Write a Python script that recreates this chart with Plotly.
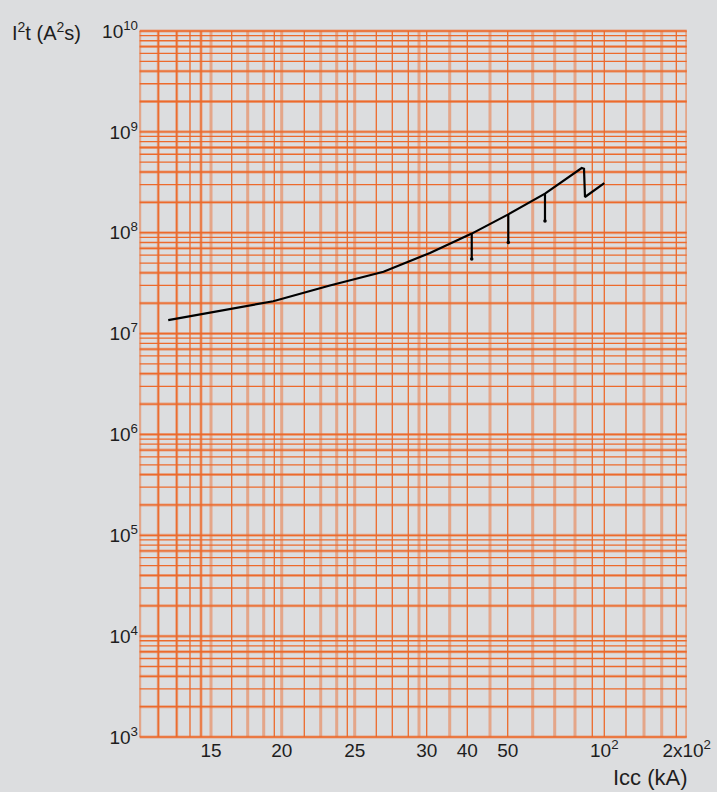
import numpy as np
import plotly.graph_objects as go

# ---- data -------------------------------------------------------------
# Let-through energy I²t versus prospective short-circuit current Icc
icc_ka = [12.0, 15.6, 19.4, 23.3, 27.0, 30.8, 41.1, 50.3, 69.3, 88.3, 89.5, 90.0, 100.0]
i2t_a2s = [1.36e7, 1.67e7, 2.09e7, 3.0e7, 4.1e7, 6.3e7, 9.8e7, 1.52e8, 2.44e8,
           4.38e8, 4.3e8, 2.26e8, 3.11e8]

# vertical drops hanging below the curve
drop_icc_ka = [41.1, 50.3, 69.3]
drop_top = [9.8e7, 1.52e8, 2.44e8]
drop_bottom = [5.5e7, 8.0e7, 1.31e8]

# axis ticks
x_tick_ka = [15, 20, 25, 30, 40, 50, 100, 200]
x_tick_text = ["15", "20", "25", "30", "40", "50", "10<sup>2</sup>", "2x10<sup>2</sup>"]
y_decades = [3, 4, 5, 6, 7, 8, 9, 10]

# ---- chart paper scale ------------------------------------------------
# the current axis is piecewise linear between the printed graduations
scale_ka = [10] + x_tick_ka
scale_u = [0.0, 71.3, 142.0, 215.0, 287.0, 327.6, 368.0, 464.6, 547.0]
U_MAX = 547.0


def to_u(values):
    return np.interp(np.asarray(values, dtype=float), scale_ka, scale_u)


# vertical rulings of the printed paper (in paper units)
solid_rules = [18.6, 37.0, 50.3, 61.3, 92.0, 134.6, 164.6, 207.6, 236.6, 252.6,
               268.6, 287.0, 327.6, 368.0, 452.6, 464.6, 486.3, 536.6]
light_rules = [0.0, 18.6, 37.0, 61.3, 71.3, 108.0, 124.0, 142.0, 181.0, 197.0,
               215.0, 279.3, 310.0, 350.3, 393.0, 415.0, 435.3, 504.3, 522.0, 547.0]

SOLID = "#EC6A2C"
LIGHT = "rgba(236,112,52,0.5)"
BG = "#DCDDDF"
TXT = "#1E1E1E"
FONT = "Liberation Sans, Arial, sans-serif"

Y_LO, Y_HI = y_decades[0], y_decades[-1]

# horizontal rulings: 1..9 per decade (solid), some doubled with a light band
solid_levels = [m * 10.0 ** d for d in y_decades[:-1] for m in range(1, 10)] + [10.0 ** Y_HI]
light_levels = [m * 10.0 ** d for d in y_decades[:-1] for m in (1, 2, 4, 7)] + [10.0 ** Y_HI]


def to_paper_y(v):
    return (np.log10(v) - Y_LO) / (Y_HI - Y_LO)


fig = go.Figure()

fig.add_trace(go.Scatter(
    x=to_u(icc_ka), y=i2t_a2s, mode="lines",
    line=dict(color="#000000", width=2.2), hoverinfo="skip", showlegend=False,
))

dx, dy = [], []
for x, top, bot in zip(to_u(drop_icc_ka), drop_top, drop_bottom):
    dx += [x, x, None]
    dy += [top, bot, None]
fig.add_trace(go.Scatter(
    x=dx, y=dy, mode="lines",
    line=dict(color="#000000", width=2.2), hoverinfo="skip", showlegend=False,
))
fig.add_trace(go.Scatter(
    x=to_u(drop_icc_ka), y=drop_bottom, mode="markers",
    marker=dict(symbol="circle", size=3.5, color="#000000"),
    hoverinfo="skip", showlegend=False,
))

shapes = []
for v in light_levels:
    p = float(to_paper_y(v))
    shapes.append(dict(type="line", xref="x", yref="paper", x0=0, x1=U_MAX, y0=p, y1=p,
                       line=dict(color=LIGHT, width=3), layer="below"))
for u in light_rules:
    shapes.append(dict(type="line", xref="x", yref="paper", x0=u, x1=u, y0=0, y1=1,
                       line=dict(color=LIGHT, width=3), layer="below"))
for v in solid_levels:
    p = float(to_paper_y(v))
    shapes.append(dict(type="line", xref="x", yref="paper", x0=0, x1=U_MAX, y0=p, y1=p,
                       line=dict(color=SOLID, width=1.3), layer="below"))
for u in solid_rules:
    shapes.append(dict(type="line", xref="x", yref="paper", x0=u, x1=u, y0=0, y1=1,
                       line=dict(color=SOLID, width=1.3), layer="below"))

fig.update_layout(
    width=717, height=792,
    margin=dict(l=139, r=30, t=31, b=55, autoexpand=False),
    paper_bgcolor=BG, plot_bgcolor=BG,
    font=dict(family=FONT, color=TXT, size=19),
    shapes=shapes,
    xaxis=dict(
        range=[-0.7, 547.3], showgrid=False, zeroline=False, showline=False,
        automargin=False,
        tickmode="array", tickvals=to_u(x_tick_ka), ticktext=x_tick_text,
        ticks="", tickfont=dict(size=19, family=FONT, color=TXT),
    ),
    yaxis=dict(
        type="log", range=[Y_LO, Y_HI], zeroline=False, showline=False, showgrid=False,
        automargin=False,
        tickmode="array", tickvals=[10.0 ** d for d in y_decades],
        ticktext=[f"10<sup>{d}</sup>" for d in y_decades], ticks="",
        tickfont=dict(size=19, family=FONT, color=TXT),
    ),
    annotations=[
        dict(text="I<sup>2</sup>t (A<sup>2</sup>s)", xref="paper", yref="paper",
             x=-0.235, y=1.0, xanchor="left", yanchor="middle", showarrow=False,
             font=dict(size=20, family=FONT, color=TXT)),
        dict(text="Icc (kA)", xref="paper", yref="paper",
             x=1.005, y=-0.057, xanchor="right", yanchor="middle", showarrow=False,
             font=dict(size=22, family=FONT, color=TXT)),
    ],
)

fig.write_html("out.html")
